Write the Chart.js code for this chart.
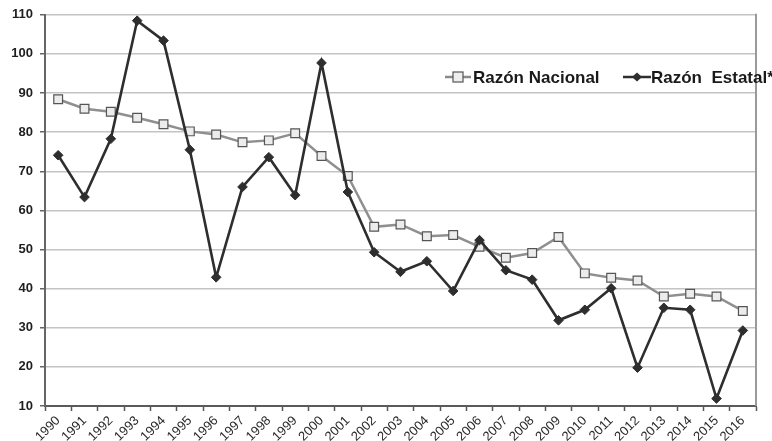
<!DOCTYPE html>
<html>
<head>
<meta charset="utf-8">
<script src="https://cdn.jsdelivr.net/npm/chart.js@4"></script>
<style>
html,body{margin:0;padding:0;background:#fff;}
canvas{display:block;}
</style>
</head>
<body>
<canvas id="c" width="772" height="441"></canvas>
<script>
const years = ["1990","1991","1992","1993","1994","1995","1996","1997","1998","1999","2000","2001","2002","2003","2004","2005","2006","2007","2008","2009","2010","2011","2012","2013","2014","2015","2016"];
const razonNacional = [88.4,86.0,85.2,83.7,82.0,80.2,79.4,77.4,77.9,79.7,73.9,68.8,55.8,56.4,53.4,53.7,50.7,47.9,49.1,53.2,43.9,42.8,42.1,38.0,38.7,38.0,34.3];
const razonEstatal = [74.1,63.4,78.3,108.5,103.4,75.5,42.9,66.0,73.6,63.9,97.7,64.7,49.3,44.3,47.0,39.4,52.4,44.7,42.3,31.9,34.6,40.1,19.8,35.1,34.6,11.9,29.3];
const yTicks = [10,20,30,40,50,60,70,80,90,100,110];
const labelNacional = "Razón Nacional";
const labelEstatal = "Razón  Estatal*";

const extrasPlugin = {
  id: 'extras',
  beforeDraw(chart) {
    const ctx = chart.ctx;
    ctx.save();
    ctx.fillStyle = '#fff';
    ctx.fillRect(0, 0, chart.width, chart.height);
    ctx.restore();
  },
  afterDraw(chart) {
    const ctx = chart.ctx;
    const a = chart.chartArea;
    ctx.save();
    // right border of plot
    ctx.strokeStyle = '#9a9a9a';
    ctx.lineWidth = 2;
    ctx.beginPath();
    ctx.moveTo(a.right, a.top - 1);
    ctx.lineTo(a.right, a.bottom);
    ctx.stroke();

    // legend
    const ly = 77;
    ctx.font = 'bold 17px "Liberation Sans", Arial, sans-serif';
    ctx.textBaseline = 'middle';
    ctx.textAlign = 'left';
    // item 1
    ctx.strokeStyle = '#8a8a8a';
    ctx.lineWidth = 2.5;
    ctx.beginPath(); ctx.moveTo(445, ly); ctx.lineTo(471, ly); ctx.stroke();
    ctx.fillStyle = '#eeeeee';
    ctx.strokeStyle = '#555';
    ctx.lineWidth = 1.2;
    ctx.fillRect(453, ly - 5, 10, 10);
    ctx.strokeRect(453, ly - 5, 10, 10);
    ctx.fillStyle = '#1a1a1a';
    ctx.fillText(chart.data.datasets[0].label, 473, ly + 1);
    // item 2
    ctx.strokeStyle = '#2e2e2e';
    ctx.lineWidth = 2.5;
    ctx.beginPath(); ctx.moveTo(623, ly); ctx.lineTo(651, ly); ctx.stroke();
    ctx.fillStyle = '#2e2e2e';
    ctx.beginPath();
    ctx.moveTo(637, ly - 4.5); ctx.lineTo(642, ly); ctx.lineTo(637, ly + 4.5); ctx.lineTo(632, ly);
    ctx.closePath(); ctx.fill();
    ctx.fillStyle = '#1a1a1a';
    ctx.fillText(chart.data.datasets[1].label, 651, ly + 1);
    ctx.restore();
  }
};

new Chart(document.getElementById('c'), {
  type: 'line',
  data: {
    labels: years,
    datasets: [
      {
        label: labelNacional,
        data: razonNacional,
        borderColor: '#8f8f8f',
        borderWidth: 2.5,
        pointStyle: 'rect',
        pointRadius: 6.2,
        pointBackgroundColor: '#ececec',
        pointBorderColor: '#555',
        pointBorderWidth: 1.2,
        tension: 0,
        order: 2
      },
      {
        label: labelEstatal,
        data: razonEstatal,
        borderColor: '#2e2e2e',
        borderWidth: 2.6,
        pointStyle: 'rectRot',
        pointRadius: 4.8,
        pointBackgroundColor: '#2e2e2e',
        pointBorderColor: '#2e2e2e',
        pointBorderWidth: 1,
        tension: 0,
        order: 1
      }
    ]
  },
  options: {
    responsive: false,
    animation: false,
    devicePixelRatio: 1,
    layout: { padding: { top: 14, right: 16, left: 0, bottom: 0 } },
    plugins: {
      legend: { display: false },
      tooltip: { enabled: false }
    },
    scales: {
      x: {
        type: 'category',
        offset: true,
        afterFit(s) { s.height = 35; },
        grid: {
          display: true,
          drawOnChartArea: false,
          drawTicks: true,
          tickLength: 5,
          offset: true,
          tickColor: '#555',
          tickWidth: 1.5
        },
        border: { display: true, color: '#5a5a5a', width: 2 },
        ticks: {
          autoSkip: false,
          maxRotation: 45,
          minRotation: 45,
          padding: 2,
          color: '#2a2a2a',
          font: { family: '"Liberation Sans", Arial, sans-serif', size: 13 }
        }
      },
      y: {
        min: 10,
        max: 110,
        afterFit(s) { s.width = 45; },
        afterBuildTicks(s) { s.ticks = yTicks.map(v => ({ value: v })); },
        grid: {
          color: '#c4c4c4',
          lineWidth: 1.5,
          drawTicks: true,
          tickLength: 5,
          tickColor: '#666'
        },
        border: { display: true, color: '#666', width: 2 },
        ticks: {
          padding: 7,
          color: '#1e1e1e',
          font: { family: '"Liberation Sans", Arial, sans-serif', size: 13, weight: 'bold' }
        }
      }
    }
  },
  plugins: [extrasPlugin]
});
</script>
</body>
</html>
